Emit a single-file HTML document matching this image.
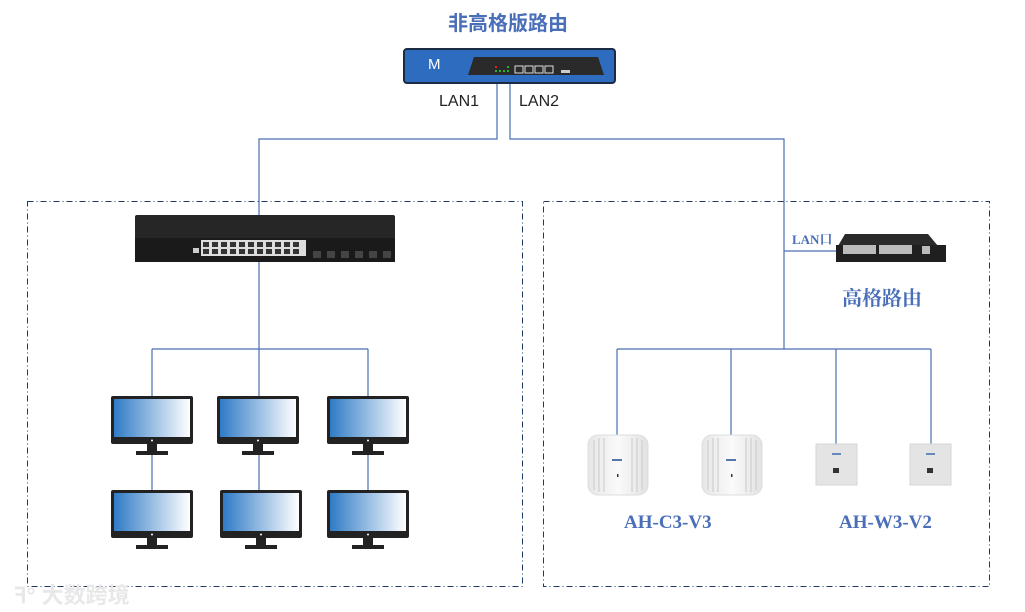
<!DOCTYPE html>
<html><head><meta charset="utf-8"><style>
body{margin:0;background:#fff;width:1025px;height:612px;overflow:hidden;position:relative;font-family:"Liberation Sans","Noto Sans CJK SC",sans-serif}
.a{position:absolute}
.t{color:#4a6fb8;font-weight:bold;font-family:"Liberation Serif","Noto Serif CJK SC",serif}
</style></head><body>
<svg class="a" style="left:0;top:0" width="1025" height="612">
<defs>
<linearGradient id="g" x1="0" x2="1"><stop offset="0" stop-color="#2f7bc6"/><stop offset="1" stop-color="#ffffff"/></linearGradient>
<linearGradient id="apg" x1="0" x2="1"><stop offset="0" stop-color="#e6e6e6"/><stop offset=".5" stop-color="#fafafa"/><stop offset="1" stop-color="#e2e2e2"/></linearGradient>
<g id="mon"><rect x="0" y="0" width="82" height="48" rx="2" fill="#222"/><rect x="3" y="3" width="76" height="38" fill="url(#g)"/><rect x="36" y="48" width="10" height="7" fill="#222"/><rect x="25" y="55" width="32" height="4" fill="#222"/><circle cx="41" cy="44.5" r="1" fill="#fff"/></g>
<g id="apd"><rect x="0" y="0" width="60" height="60" rx="10" fill="url(#apg)" stroke="#ddd"/><g stroke="#cfcfcf" stroke-width="1.2"><line x1="6" y1="5" x2="6" y2="55"/><line x1="11" y1="3" x2="11" y2="57"/><line x1="16" y1="3" x2="16" y2="57"/><line x1="44" y1="3" x2="44" y2="57"/><line x1="49" y1="3" x2="49" y2="57"/><line x1="54" y1="5" x2="54" y2="55"/></g><rect x="24" y="24" width="10" height="2" fill="#5577aa"/><rect x="29" y="39" width="1.5" height="3" fill="#335"/></g>
<g id="wp"><rect x="0" y="0" width="41" height="41" fill="#e4e4e4" stroke="#d6d6d6"/><rect x="16" y="9" width="9" height="2" fill="#6688bb"/><rect x="17" y="24" width="6" height="5" fill="#333"/></g>
</defs>
<g fill="none" stroke="#1f3864" stroke-width="1" stroke-dasharray="6,3,1,3">
<rect x="27.5" y="201.5" width="495" height="385"/>
<rect x="543.5" y="201.5" width="446" height="385"/>
</g>
<g fill="none" stroke="#4a6fb0" stroke-width="1.2">
<polyline points="497,83 497,139 259,139 259,216"/>
<polyline points="510,83 510,139 784,139 784,349"/>
<line x1="784" y1="251" x2="838" y2="251"/>
<line x1="259" y1="262" x2="259" y2="349"/>
<line x1="152" y1="349" x2="368" y2="349"/>
<line x1="152" y1="349" x2="152" y2="397"/><line x1="259" y1="349" x2="259" y2="397"/><line x1="368" y1="349" x2="368" y2="397"/>
<line x1="152" y1="455" x2="152" y2="491"/><line x1="259" y1="455" x2="259" y2="491"/><line x1="368" y1="455" x2="368" y2="491"/>
<line x1="617" y1="349" x2="931" y2="349"/>
<line x1="617" y1="349" x2="617" y2="436"/><line x1="731" y1="349" x2="731" y2="436"/><line x1="836" y1="349" x2="836" y2="445"/><line x1="931" y1="349" x2="931" y2="445"/>
</g>
<rect x="404" y="49" width="211" height="34" rx="3" fill="#2e6cc0" stroke="#1c2a44" stroke-width="2"/>
<path d="M474 57 L598 57 L604 75 L468 75 Z" fill="#2a2a2a"/>
<g fill="#2ab12a"><rect x="495" y="70" width="2" height="2"/><rect x="499" y="70" width="2" height="2"/><rect x="503" y="70" width="2" height="2"/><rect x="507" y="70" width="2" height="2"/><rect x="507" y="66" width="2" height="2"/></g>
<rect x="495" y="66" width="2" height="2" fill="#d22"/>
<g fill="none" stroke="#ddd"><rect x="515" y="66" width="8" height="7"/><rect x="525" y="66" width="8" height="7"/><rect x="535" y="66" width="8" height="7"/><rect x="545" y="66" width="8" height="7"/></g>
<rect x="561" y="70" width="9" height="3" fill="#ccc"/>
<rect x="135" y="215" width="260" height="47" rx="2" fill="#262626"/>
<rect x="135" y="238" width="260" height="24" fill="#1a1a1a"/>
<rect x="201" y="240" width="105" height="16" fill="#ddd"/>
<g fill="#333"><rect x="203" y="242" width="6" height="5"/><rect x="212" y="242" width="6" height="5"/><rect x="221" y="242" width="6" height="5"/><rect x="230" y="242" width="6" height="5"/><rect x="239" y="242" width="6" height="5"/><rect x="248" y="242" width="6" height="5"/><rect x="257" y="242" width="6" height="5"/><rect x="266" y="242" width="6" height="5"/><rect x="275" y="242" width="6" height="5"/><rect x="284" y="242" width="6" height="5"/><rect x="293" y="242" width="6" height="5"/><rect x="203" y="249" width="6" height="5"/><rect x="212" y="249" width="6" height="5"/><rect x="221" y="249" width="6" height="5"/><rect x="230" y="249" width="6" height="5"/><rect x="239" y="249" width="6" height="5"/><rect x="248" y="249" width="6" height="5"/><rect x="257" y="249" width="6" height="5"/><rect x="266" y="249" width="6" height="5"/><rect x="275" y="249" width="6" height="5"/><rect x="284" y="249" width="6" height="5"/><rect x="293" y="249" width="6" height="5"/></g>
<g fill="#444"><rect x="313" y="251" width="8" height="7"/><rect x="327" y="251" width="8" height="7"/><rect x="341" y="251" width="8" height="7"/><rect x="355" y="251" width="8" height="7"/><rect x="369" y="251" width="8" height="7"/><rect x="383" y="251" width="8" height="7"/></g>
<rect x="193" y="248" width="6" height="5" fill="#ccc"/>
<path d="M845 234 L928 234 L938 246 L838 246 Z" fill="#2a2a2a"/>
<rect x="836" y="245" width="110" height="17" fill="#1f1f1f"/>
<rect x="843" y="245" width="33" height="9" fill="#bbb"/><rect x="879" y="245" width="33" height="9" fill="#bbb"/><rect x="922" y="246" width="8" height="8" fill="#bbb"/>
<use href="#mon" x="111" y="396"/><use href="#mon" x="217" y="396"/><use href="#mon" x="327" y="396"/>
<use href="#mon" x="111" y="490"/><use href="#mon" x="220" y="490"/><use href="#mon" x="327" y="490"/>
<use href="#apd" x="588" y="435"/><use href="#apd" x="702" y="435"/>
<use href="#wp" x="816" y="444"/><use href="#wp" x="910" y="444"/>
</svg>
<div class="a t" style="left:448px;top:7px;font-size:20px;font-family:'Liberation Sans','Noto Sans CJK SC',sans-serif">非高格版路由</div>
<div class="a" style="left:428px;top:56px;font-size:15px;color:#fff">M</div>
<div class="a" style="left:439px;top:93px;font-size:16px;color:#222">LAN1</div>
<div class="a" style="left:519px;top:93px;font-size:16px;color:#222">LAN2</div>
<div class="a t" style="left:792px;top:229px;font-size:13px">LAN口</div>
<div class="a t" style="left:842px;top:282px;font-size:20px">高格路由</div>
<div class="a t" style="left:624px;top:512px;font-size:19px">AH-C3-V3</div>
<div class="a t" style="left:839px;top:512px;font-size:19px">AH-W3-V2</div>
<div class="a" style="left:14px;top:578px;font-size:22px;color:#e8e8e8;font-weight:bold">ꟻ° 大数跨境</div>
</body></html>
